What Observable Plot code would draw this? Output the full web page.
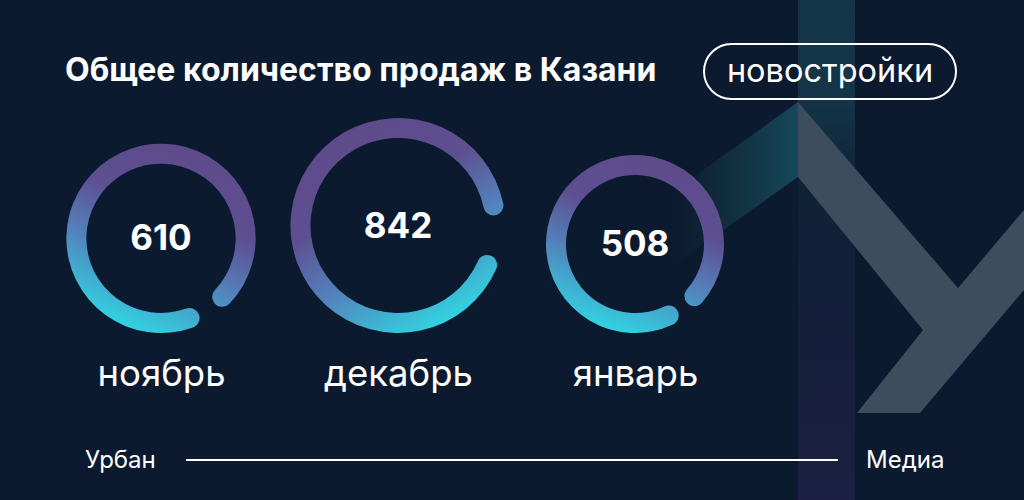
<!DOCTYPE html>
<html>
<head>
<meta charset="utf-8">
<script src="https://cdn.jsdelivr.net/npm/d3@7"></script>
<script src="https://cdn.jsdelivr.net/npm/@observablehq/plot@0.6"></script>
<style>
  html, body { margin: 0; padding: 0; background: #0b1a2f; }
  #wrap { position: relative; width: 1024px; height: 500px; overflow: hidden; background: #0b1a2f;
          font-family: Inter, "Noto Sans", sans-serif; color: #fff; }
  #chart { position: absolute; left: 0; top: 0; }
  .abs { position: absolute; white-space: nowrap; }
  .title { left: 65px; top: 54px; font-size: 32px; line-height: 32px; font-weight: 700; }
  .pill { left: 703px; top: 43px; width: 254px; height: 57px; box-sizing: border-box;
          border: 2.5px solid #fff; border-radius: 29px; }
  .pilltext { left: 703px; width: 254px; text-align: center; top: 55px; font-size: 32.5px; line-height: 32.5px; font-weight: 400; }
  .foot { top: 448px; font-size: 24px; line-height: 24px; font-weight: 400; }
  .rule { left: 186px; top: 459px; width: 652px; height: 2px; background: #fff; }
</style>
</head>
<body>
<div id="wrap">
  <div id="chart"></div>
  <div class="abs title">Общее количество продаж в Казани</div>
  <div class="abs pill"></div>
  <div class="abs pilltext">новостройки</div>
  <div class="abs foot" style="left:85px">Урбан</div>
  <div class="abs rule"></div>
  <div class="abs foot" style="left:866px">Медиа</div>
</div>
<script>
// ---- data ----
const months = ["ноябрь", "декабрь", "январь"];
const sales = [610, 842, 508];

// ---- ring styling (decorative, not data) ----
const gapCenterDeg = [147, 96, 143];
const gapSpanDeg = [13, 24, 9];

const rows = months.map((m, i) => ({month: m, value: sales[i]}));

const BAND = 20;       // ring thickness
const BASELINE = 333;  // rings sit on this line (y units)

function decor() {
  const g = d3.create("svg:g");
  const defs = g.append("defs");
  const vs = defs.append("linearGradient").attr("id", "strip").attr("x1", 0).attr("y1", 0).attr("x2", 0).attr("y2", 1);
  [[0, "#153649"], [0.2, "#143447"], [0.38, "#0f2137"], [0.75, "#161f3c"], [1, "#1c1f42"]]
    .forEach(([o, c]) => vs.append("stop").attr("offset", o).attr("stop-color", c));
  const tg = defs.append("linearGradient").attr("id", "teal").attr("gradientUnits", "userSpaceOnUse")
    .attr("x1", 798).attr("y1", 0).attr("x2", 660).attr("y2", 0);
  tg.append("stop").attr("offset", 0).attr("stop-color", "#16495a").attr("stop-opacity", 1);
  tg.append("stop").attr("offset", 0.6).attr("stop-color", "#12303f").attr("stop-opacity", 0.7);
  tg.append("stop").attr("offset", 1).attr("stop-color", "#0b1a2f").attr("stop-opacity", 0);
  g.append("rect").attr("x", 798).attr("y", 0).attr("width", 57).attr("height", 500).attr("fill", "url(#strip)");
  g.append("polygon").attr("points", "798,102 798,177 660,275 660,201").attr("fill", "url(#teal)");
  g.append("polygon")
    .attr("points", "798,102 958,288 1024,210 1024,290 920,413 857,413 923,330 798,177")
    .attr("fill", "#3c4e5e");
  return g.node();
}

function rings(index, scales) {
  const g = d3.create("svg:g");
  const defs = g.append("defs");
  const rad = Math.PI / 180;
  rows.forEach((d, i) => {
    const cx = scales.x(d.month);
    const rc = scales.r(d.value);
    const ro = rc + BAND / 2;
    const cy = scales.y(BASELINE) - ro;
    const gc = gapCenterDeg[i], gs = gapSpanDeg[i];
    const th = (gc + 55) * rad;
    const R = ro * 1.05;
    const dx = Math.sin(th) * R, dy = -Math.cos(th) * R;
    const lg = defs.append("linearGradient").attr("id", "ring" + i).attr("gradientUnits", "userSpaceOnUse")
      .attr("x1", -dx).attr("y1", -dy).attr("x2", dx).attr("y2", dy);
    [[0, "#5e4a8b"], [0.35, "#5d4f91"], [0.62, "#5480bb"], [1, "#2fd8e3"]]
      .forEach(([o, c]) => lg.append("stop").attr("offset", o).attr("stop-color", c));
    const arc = d3.arc()
      .innerRadius(rc - BAND / 2).outerRadius(rc + BAND / 2).cornerRadius(BAND / 2)
      .startAngle((gc + gs / 2) * rad).endAngle((gc + 360 - gs / 2) * rad);
    const grp = g.append("g").attr("transform", `translate(${cx},${cy})`);
    grp.append("path").attr("d", arc()).attr("fill", `url(#ring${i})`);
    grp.append("text").attr("text-anchor", "middle").attr("y", 12)
      .attr("fill", "#fff").attr("font-size", 35).attr("font-weight", 700)
      .attr("font-family", "Inter, 'Noto Sans', sans-serif")
      .text(d.value);
  });
  return g.node();
}

const chart = Plot.plot({
  width: 1024,
  height: 500,
  margin: 0,
  style: {background: "transparent", overflow: "visible"},
  x: {type: "point", domain: months, range: [161, 635], padding: 0, axis: null},
  y: {type: "linear", domain: [0, 500], range: [0, 500], axis: null},
  r: {type: "linear", domain: [508, 842], range: [79, 97.5]},
  marks: [
    decor,
    Plot.dot(rows, {x: "month", y: () => BASELINE, r: "value", fill: "none", stroke: "none"}),
    rings,
    Plot.text(rows, {x: "month", y: () => 374, text: "month", fill: "#fff", fontSize: 36.5,
      fontFamily: "Inter, 'Noto Sans', sans-serif", fontWeight: 400})
  ]
});
document.getElementById("chart").appendChild(chart);
</script>
</body>
</html>
